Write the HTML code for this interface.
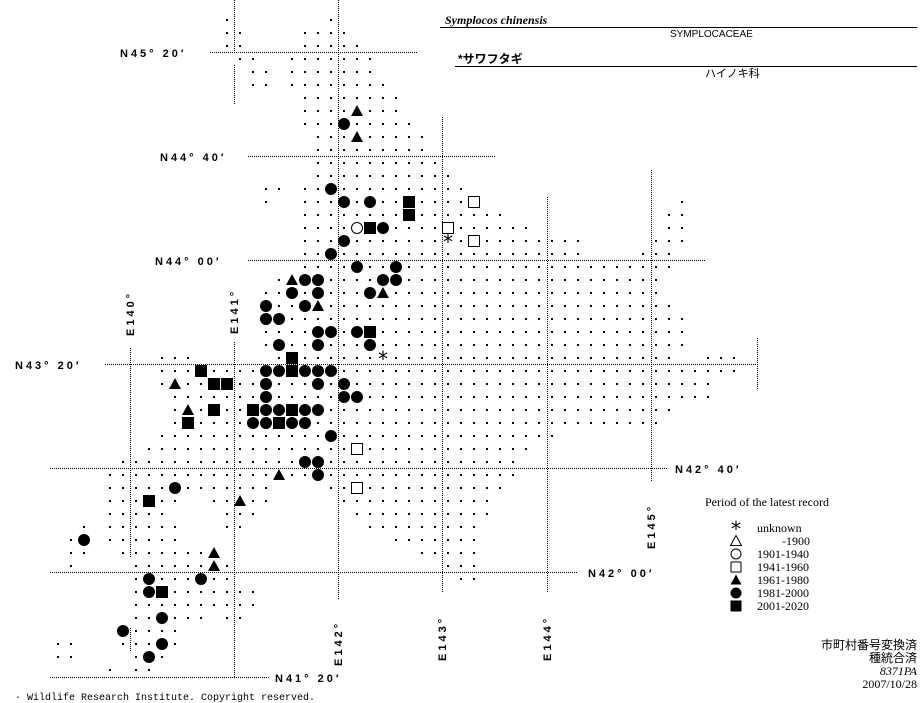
<!DOCTYPE html>
<html><head><meta charset="utf-8"><style>
body{margin:0;background:#fff;width:923px;height:703px;overflow:hidden;font-family:"Liberation Sans",sans-serif}
svg{position:absolute;left:0;top:0}
.lab{font-family:"Liberation Sans",sans-serif;font-weight:bold;font-size:11px;letter-spacing:3px;fill:#000}
.mono{font-family:"Liberation Mono",monospace;font-size:10px;fill:#000}
.ser{font-family:"Liberation Serif","Noto Sans CJK JP",serif;font-size:12px;fill:#000}
</style></head><body>
<svg id="s" width="923" height="703" xmlns="http://www.w3.org/2000/svg">
<g stroke="#000" stroke-width="1" stroke-dasharray="1,1" fill="none">
<line x1="210" y1="52.5" x2="417" y2="52.5"/>
<line x1="248" y1="156.5" x2="495" y2="156.5"/>
<line x1="248" y1="260.5" x2="705" y2="260.5"/>
<line x1="105" y1="364.5" x2="757" y2="364.5"/>
<line x1="50" y1="468.5" x2="667" y2="468.5"/>
<line x1="50" y1="572.5" x2="578" y2="572.5"/>
<line x1="50" y1="677.5" x2="270" y2="677.5"/>
<line x1="234.5" y1="0" x2="234.5" y2="52"/>
<line x1="234.5" y1="65" x2="234.5" y2="105"/>
<line x1="234.5" y1="342" x2="234.5" y2="677"/>
<line x1="130.5" y1="348" x2="130.5" y2="558"/>
<line x1="130.5" y1="628" x2="130.5" y2="652"/>
<line x1="338.5" y1="0" x2="338.5" y2="600"/>
<line x1="442.5" y1="117" x2="442.5" y2="592"/>
<line x1="547.5" y1="197" x2="547.5" y2="592"/>
<line x1="651.5" y1="170" x2="651.5" y2="482"/>
<line x1="757.5" y1="338" x2="757.5" y2="390"/>
</g>
<g id="d" fill="#000"></g>
<g id="m" fill="#000"></g>
<text class="lab" x="120" y="57">N45° 20′</text>
<text class="lab" x="160" y="161">N44° 40′</text>
<text class="lab" x="155" y="265">N44° 00′</text>
<text class="lab" x="15" y="369">N43° 20′</text>
<text class="lab" x="675" y="473">N42° 40′</text>
<text class="lab" x="588" y="577">N42° 00′</text>
<text class="lab" x="275" y="682">N41° 20′</text>
<text class="lab" transform="translate(134,336) rotate(-90)">E140°</text>
<text class="lab" transform="translate(238,334) rotate(-90)">E141°</text>
<text class="lab" transform="translate(342,666) rotate(-90)">E142°</text>
<text class="lab" transform="translate(446,661) rotate(-90)">E143°</text>
<text class="lab" transform="translate(551,661) rotate(-90)">E144°</text>
<text class="lab" transform="translate(655,549) rotate(-90)">E145°</text>
<text x="445" y="24" font-family="Liberation Serif,serif" font-style="italic" font-weight="bold" font-size="12">Symplocos chinensis</text>
<line x1="440" y1="27.5" x2="917" y2="27.5" stroke="#000"/>
<text x="670" y="37" font-family="Liberation Sans,sans-serif" font-size="10">SYMPLOCACEAE</text>
<text x="458" y="63" font-family="Liberation Sans,'Noto Sans CJK JP',sans-serif" font-weight="bold" font-size="12">*サワフタギ</text>
<line x1="455" y1="66.5" x2="917" y2="66.5" stroke="#000"/>
<text x="705" y="77" font-family="Liberation Sans,'Noto Sans CJK JP',sans-serif" font-size="11">ハイノキ科</text>
<text class="ser" x="705" y="506">Period of the latest record</text>
<g class="ser" font-size="11" font-family="Liberation Sans Narrow,Liberation Serif,serif">
<text x="757" y="532">unknown</text><text x="782" y="545">-1900</text>
<text x="757" y="558">1901-1940</text><text x="757" y="571">1941-1960</text>
<text x="757" y="584">1961-1980</text><text x="757" y="597">1981-2000</text>
<text x="757" y="610">2001-2020</text>
</g>
<g font-family="Liberation Serif,'Noto Sans CJK JP',serif" font-size="12" text-anchor="end">
<text x="917" y="649">市町村番号変換済</text>
<text x="917" y="662">種統合済</text>
<text x="917" y="675" font-style="italic">8371PA</text>
<text x="917" y="688">2007/10/28</text>
</g>
<text class="mono" x="15" y="700">· Wildlife Research Institute. Copyright reserved.</text>
</svg>
<script>
var NS="http://www.w3.org/2000/svg";
var R={0:[[0,0],[8,8]],1:[[0,1],[6,9]],2:[[0,1],[6,10]],3:[[1,2],[5,11]],4:[[2,3],[5,11]],5:[[2,3],[5,12]],6:[[6,13]],7:[[6,13]],8:[[6,14]],9:[[7,15]],10:[[7,15]],11:[[7,16]],12:[[7,17]],13:[[3,4],[6,18]],14:[[3,3],[6,19],[35,35]],15:[[6,21],[34,35]],16:[[6,23],[34,35]],17:[[6,27],[33,35]],18:[[6,27],[32,34]],19:[[6,34]],20:[[4,33]],21:[[3,33]],22:[[3,34]],23:[[3,35]],24:[[3,35]],25:[[3,35]],26:[[-5,-3],[4,34],[37,39]],27:[[-5,39]],28:[[-5,37]],29:[[-4,37]],30:[[-4,34]],31:[[-4,33]],32:[[-5,25]],33:[[-6,23]],34:[[-8,22]],35:[[-9,22]],36:[[-9,3],[8,21]],37:[[-9,-4],[-1,3],[9,20]],38:[[-9,-5],[0,2],[10,20]],39:[[-11,-11],[-9,-4],[0,1],[11,19]],40:[[-12,-11],[-9,-4],[13,19]],41:[[-12,-11],[-8,-1],[15,19]],42:[[-12,-12],[-7,0],[17,19]],43:[[-7,0],[18,19]],44:[[-7,2]],45:[[-7,2]],46:[[-7,-2],[0,1]],47:[[-8,-4]],48:[[-13,-12],[-8,-4]],49:[[-13,-12],[-7,-5]],50:[[-9,-9],[-7,-6]]};
var M=[[7,10,'T'],[8,9,'C'],[9,10,'T'],[13,8,'C'],[14,9,'C'],[14,11,'C'],[14,14,'S'],[14,19,'oS'],[15,14,'S'],[16,10,'oC'],[16,11,'S'],[16,12,'C'],[16,17,'oS'],[17,9,'C'],[17,17,'A'],[17,19,'oS'],[18,8,'C'],[19,10,'C'],[19,13,'C'],[20,5,'T'],[20,6,'C'],[20,7,'C'],[20,12,'C'],[20,13,'C'],[21,5,'C'],[21,7,'C'],[21,11,'C'],[21,12,'T'],[22,3,'C'],[22,6,'C'],[22,7,'T'],[23,3,'C'],[23,4,'C'],[24,7,'C'],[24,8,'C'],[24,10,'C'],[24,11,'S'],[25,4,'C'],[25,7,'C'],[25,11,'C'],[26,5,'S'],[26,12,'A'],[27,-2,'S'],[27,3,'C'],[27,4,'C'],[27,5,'S'],[27,6,'C'],[27,7,'C'],[27,8,'C'],[28,-4,'T'],[28,-1,'S'],[28,0,'S'],[28,3,'C'],[28,7,'C'],[28,9,'C'],[29,3,'C'],[29,9,'C'],[29,10,'C'],[30,-3,'T'],[30,-1,'S'],[30,2,'S'],[30,3,'C'],[30,4,'C'],[30,5,'S'],[30,6,'C'],[30,7,'C'],[31,-3,'S'],[31,2,'C'],[31,3,'C'],[31,4,'S'],[31,5,'C'],[31,6,'C'],[32,8,'C'],[33,10,'oS'],[34,6,'C'],[34,7,'C'],[35,4,'T'],[35,7,'C'],[36,-4,'C'],[36,10,'oS'],[37,-6,'S'],[37,1,'T'],[40,-11,'C'],[41,-1,'T'],[42,-1,'T'],[43,-6,'C'],[43,-2,'C'],[44,-6,'C'],[44,-5,'S'],[46,-5,'C'],[47,-8,'C'],[48,-5,'C'],[49,-6,'C']];
function X(c){return 227+13*c}function Y(r){return 20+13*r}
var key={};M.forEach(function(m){key[m[0]+','+m[1]]=1});
var d=document.getElementById('d'),g=document.getElementById('m');
function el(t,a,p){var e=document.createElementNS(NS,t);for(var k in a)e.setAttribute(k,a[k]);p.appendChild(e);return e}
for(var r in R){R[r].forEach(function(rg){for(var c=rg[0];c<=rg[1];c++){if(key[r+','+c])continue;el('rect',{x:X(c)-1,y:Y(+r)-1,width:2,height:2},d)}})}
function draw(x,y,t,p,s){s=s||6;
 if(t=='C')el('circle',{cx:x,cy:y,r:s},p);
 else if(t=='S')el('rect',{x:x-s,y:y-s,width:2*s,height:2*s},p);
 else if(t=='T')el('polygon',{points:(x-s)+','+(y+s-1)+' '+(x+s)+','+(y+s-1)+' '+x+','+(y-s)},p);
 else if(t=='oC')el('circle',{cx:x,cy:y,r:s-0.5,fill:'#fff',stroke:'#000'},p);
 else if(t=='oS')el('rect',{x:x-s+0.5,y:y-s+0.5,width:2*s-1,height:2*s-1,fill:'#fff',stroke:'#000'},p);
 else if(t=='oT')el('polygon',{points:(x-s)+','+(y+s-1)+' '+(x+s)+','+(y+s-1)+' '+x+','+(y-s),fill:'#fff',stroke:'#000'},p);
 else if(t=='A'){var e=el('text',{x:x,y:y+8,'text-anchor':'middle','font-size':'20','font-family':'DejaVu Sans,sans-serif'},p);e.textContent='*';}
}
M.forEach(function(m){draw(X(m[1]),Y(m[0]),m[2],g)});
var L=['A','oT','oC','oS','T','C','S'];
L.forEach(function(t,i){draw(736,528+13*i,t,g,5.5)});
</script>
</body></html>
